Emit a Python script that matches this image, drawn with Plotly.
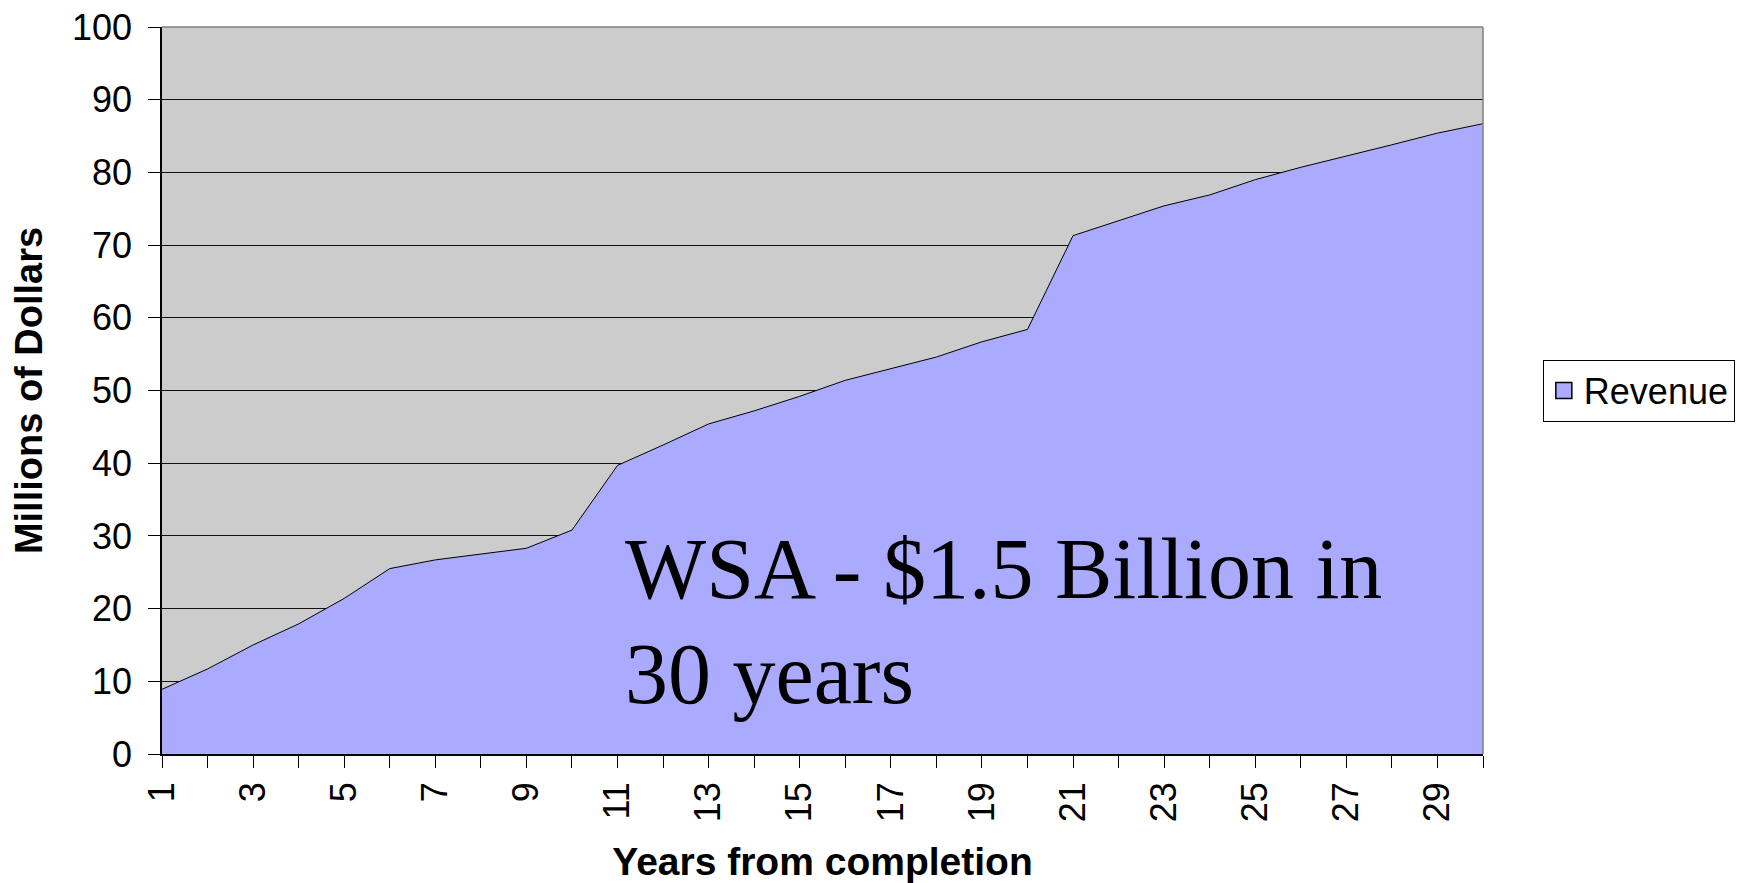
import plotly.graph_objects as go

years = list(range(1, 31))
revenue = [8.9, 11.7, 15.0, 17.9, 21.4, 25.5, 26.7, 27.5, 28.3, 30.8,
           39.7, 42.5, 45.4, 47.2, 49.2, 51.4, 53.0, 54.6, 56.7, 58.4,
           71.3, 73.4, 75.4, 76.9, 79.0, 80.7, 82.2, 83.8, 85.4, 86.7]
series_name = "Revenue"
x_title = "Years from completion"
y_title = "Millions of Dollars"
note_lines = ["WSA - $1.5 Billion in", "30 years"]

FILL = "#AAAAFF"
SANS = "Liberation Sans, Arial, sans-serif"
SERIF = "Liberation Serif, Times New Roman, serif"

fig = go.Figure()
fig.add_trace(go.Scatter(
    x=years, y=revenue, mode="lines", fill="tozeroy",
    fillcolor=FILL, line=dict(color="#000000", width=1),
    showlegend=False, hoverinfo="x+y", name=series_name))
fig.add_trace(go.Scatter(
    x=[None], y=[None], mode="markers", name=series_name,
    marker=dict(symbol="square", size=20, color=FILL,
                line=dict(color="#000000", width=1.5))))

fig.update_layout(
    width=1747, height=883,
    margin=dict(l=154, r=272, t=19, b=137, autoexpand=False),
    paper_bgcolor="#FFFFFF", plot_bgcolor="#CCCCCC",
    font=dict(family=SANS, size=36, color="#000000"),
    showlegend=True,
    legend=dict(x=1.0453, y=0.5, xanchor="left", yanchor="middle",
                bgcolor="#FFFFFF", bordercolor="#000000", borderwidth=1,
                font=dict(family=SANS, size=36, color="#000000"),
                itemsizing="trace"),
    xaxis=dict(range=[1, 30], tick0=1, dtick=2, tickangle=-90,
               ticks="outside", ticklen=12, tickcolor="#000000",
               minor=dict(dtick=1, tick0=1, ticks="outside", ticklen=12,
                          tickcolor="#000000", showgrid=False),
               showgrid=False, zeroline=False, showline=True,
               linecolor="#000000", linewidth=1.5,
               ticklabeloverflow="allow",
               tickfont=dict(family=SANS, size=36),
               title=dict(text="<b>%s</b>" % x_title,
                          font=dict(family=SANS, size=39), standoff=27),
               automargin=False),
    yaxis=dict(range=[0, 100], dtick=10, ticks="outside", ticklen=12,
               tickcolor="#000000", showgrid=True, gridcolor="#111111",
               gridwidth=1, zeroline=False, showline=True,
               linecolor="#000000", linewidth=1.5,
               ticklabelstandoff=9, ticklabeloverflow="allow",
               tickfont=dict(family=SANS, size=36),
               title=dict(text="<b>%s</b>" % y_title,
                          font=dict(family=SANS, size=38), standoff=38),
               automargin=False),
)

# plot-area border (top / right) in gray
fig.add_shape(type="line", xref="paper", yref="paper", x0=0, x1=1, y0=1, y1=1,
              line=dict(color="#808080", width=1.5))
fig.add_shape(type="line", xref="paper", yref="paper", x0=1, x1=1, y0=0, y1=1,
              line=dict(color="#808080", width=1.5))

fig.add_annotation(text=note_lines[0], xref="paper", yref="paper",
                   x=0.3493, y=0.2545, xanchor="left", yanchor="middle",
                   showarrow=False, font=dict(family=SERIF, size=86, color="#000000"))
fig.add_annotation(text=note_lines[1], xref="paper", yref="paper",
                   x=0.3493, y=0.1106, xanchor="left", yanchor="middle",
                   showarrow=False, font=dict(family=SERIF, size=86, color="#000000"))

fig.write_html("out.html")
